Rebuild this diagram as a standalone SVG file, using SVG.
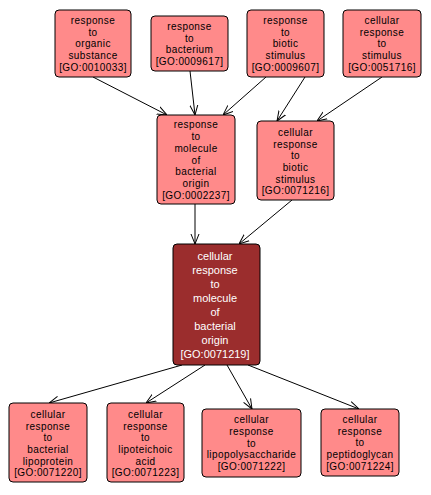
<svg xmlns="http://www.w3.org/2000/svg" width="431" height="495" viewBox="0 0 431 495">
<style>
.n rect{fill:#ff8a8a;stroke:#000;stroke-width:1}
.n text{font-family:"Liberation Sans",Arial,sans-serif;font-size:10px;letter-spacing:0.4px;fill:#000;text-anchor:middle}
.c rect{fill:#9b2d2d;stroke:#000;stroke-width:1}
.c text{font-family:"Liberation Sans",Arial,sans-serif;font-size:11px;fill:#fff;text-anchor:middle}
.e line{stroke:#000;stroke-width:1;marker-end:url(#a)}
</style>
<defs>
<marker id="a" markerWidth="10" markerHeight="10" refX="10" refY="5" orient="auto" markerUnits="userSpaceOnUse">
<path d="M0,1 L10,5 L0,9" fill="none" stroke="#000" stroke-width="1"/>
</marker>
</defs>
<rect width="431" height="495" fill="#fff"/>
<g class="e">
<line x1="93" y1="77" x2="167" y2="115"/>
<line x1="190" y1="71" x2="195" y2="115"/>
<line x1="266" y1="77" x2="223" y2="115"/>
<line x1="305" y1="77" x2="277" y2="121"/>
<line x1="382" y1="77" x2="317" y2="121"/>
<line x1="195" y1="204" x2="195" y2="244"/>
<line x1="292" y1="200" x2="239" y2="244"/>
<line x1="182" y1="365" x2="49" y2="403"/>
<line x1="205" y1="365" x2="146" y2="403"/>
<line x1="227" y1="365" x2="252" y2="409"/>
<line x1="248" y1="365" x2="359" y2="409"/>
</g>
<g id="n1" class="n"><rect x="55" y="10" width="76" height="67" rx="4"/>
<text x="93" y="24">response</text><text x="93" y="35.7">to</text><text x="93" y="47.4">organic</text><text x="93" y="59.1">substance</text><text x="93" y="70.8">[GO:0010033]</text></g>
<g id="n2" class="n"><rect x="151" y="16" width="77" height="55" rx="4"/>
<text x="189.5" y="30">response</text><text x="189.5" y="41.7">to</text><text x="189.5" y="53.4">bacterium</text><text x="189.5" y="65.1">[GO:0009617]</text></g>
<g id="n3" class="n"><rect x="247" y="10" width="77" height="67" rx="4"/>
<text x="285.5" y="24">response</text><text x="285.5" y="35.7">to</text><text x="285.5" y="47.4">biotic</text><text x="285.5" y="59.1">stimulus</text><text x="285.5" y="70.8">[GO:0009607]</text></g>
<g id="n4" class="n"><rect x="343" y="10" width="78" height="67" rx="4"/>
<text x="382" y="24">cellular</text><text x="382" y="35.7">response</text><text x="382" y="47.4">to</text><text x="382" y="59.1">stimulus</text><text x="382" y="70.8">[GO:0051716]</text></g>
<g id="n5" class="n"><rect x="157" y="115" width="78" height="89" rx="4"/>
<text x="196" y="128.4">response</text><text x="196" y="140.1">to</text><text x="196" y="151.8">molecule</text><text x="196" y="163.5">of</text><text x="196" y="175.2">bacterial</text><text x="196" y="186.9">origin</text><text x="196" y="198.6">[GO:0002237]</text></g>
<g id="n6" class="n"><rect x="257" y="121" width="77" height="79" rx="4"/>
<text x="295.5" y="135.8">cellular</text><text x="295.5" y="147.5">response</text><text x="295.5" y="159.2">to</text><text x="295.5" y="170.9">biotic</text><text x="295.5" y="182.6">stimulus</text><text x="295.5" y="194.3">[GO:0071216]</text></g>
<g id="n7" class="c"><rect x="173" y="244" width="87" height="121" rx="4"/>
<text x="215" y="260">cellular</text><text x="215" y="274">response</text><text x="215" y="288">to</text><text x="215" y="302">molecule</text><text x="215" y="316">of</text><text x="215" y="330">bacterial</text><text x="215" y="344">origin</text><text x="215" y="358">[GO:0071219]</text></g>
<g id="n8" class="n"><rect x="9" y="403" width="78" height="79" rx="4"/>
<text x="48" y="417.8">cellular</text><text x="48" y="429.5">response</text><text x="48" y="441.2">to</text><text x="48" y="452.9">bacterial</text><text x="48" y="464.6">lipoprotein</text><text x="48" y="476.3">[GO:0071220]</text></g>
<g id="n9" class="n"><rect x="107" y="403" width="77" height="79" rx="4"/>
<text x="145.5" y="417.8">cellular</text><text x="145.5" y="429.5">response</text><text x="145.5" y="441.2">to</text><text x="145.5" y="452.9">lipoteichoic</text><text x="145.5" y="464.6">acid</text><text x="145.5" y="476.3">[GO:0071223]</text></g>
<g id="n10" class="n"><rect x="202" y="409" width="99" height="68" rx="4"/>
<text x="251.5" y="423.1">cellular</text><text x="251.5" y="434.8">response</text><text x="251.5" y="446.5">to</text><text x="251.5" y="458.2">lipopolysaccharide</text><text x="251.5" y="469.9">[GO:0071222]</text></g>
<g id="n11" class="n"><rect x="321" y="409" width="78" height="67" rx="4"/>
<text x="360" y="423">cellular</text><text x="360" y="434.7">response</text><text x="360" y="446.4">to</text><text x="360" y="458.1">peptidoglycan</text><text x="360" y="469.8">[GO:0071224]</text></g>
</svg>
